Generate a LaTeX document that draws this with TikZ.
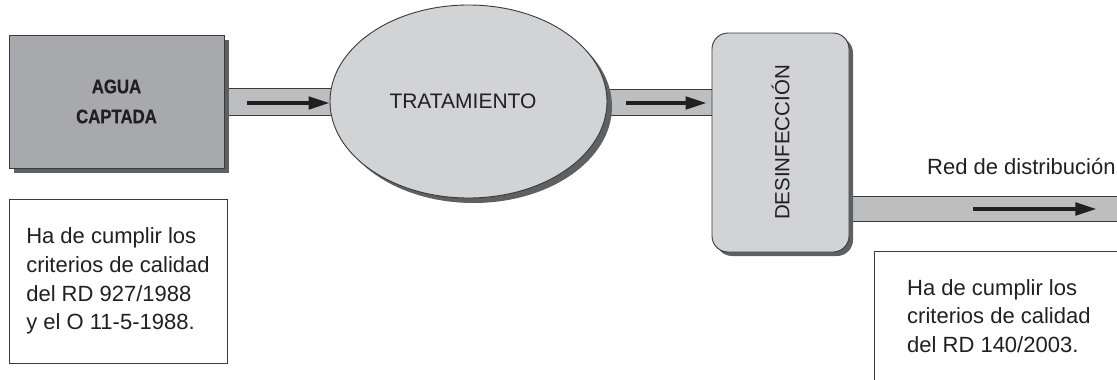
\documentclass[tikz,border=0pt]{standalone}
\usepackage{fontspec}
\setmainfont{Liberation Sans}
\newfontface\heavyface{Liberation Sans Bold}[FakeBold=0.6]
\usetikzlibrary{shapes.geometric,shadows,arrows.meta}
\pgfdeclarelayer{background}
\pgfsetlayers{background,main}

\definecolor{inkc}{HTML}{231F20}
\definecolor{edgec}{HTML}{3A3A3C}
\definecolor{sourcec}{HTML}{A7A9AC}
\definecolor{procc}{HTML}{D1D3D4}
\definecolor{pipec}{HTML}{BCBEC0}
\definecolor{shadec}{HTML}{5F6062}

\tikzset{
  x=1pt, y=-1pt,
  every node/.style={text=inkc},
  shade/.style={drop shadow={shadow xshift=#1, shadow yshift=-#1, opacity=1, fill=shadec}},
  sourcebox/.style={rectangle, draw=edgec, line width=0.9pt, fill=sourcec,
    minimum width=215pt, minimum height=133pt, inner sep=0pt, align=center,
    font=\heavyface\fontsize{19.5}{30}\selectfont, shade=5pt},
  procellipse/.style={ellipse, draw=edgec, line width=0.9pt, fill=procc,
    minimum width=277pt, minimum height=193pt, inner sep=0pt,
    font=\fontsize{21}{25}\selectfont, shade=5pt},
  procbox/.style={rectangle, rounded corners=16pt, draw=edgec, line width=0.9pt,
    fill=procc, minimum width=137pt, minimum height=219pt, inner sep=0pt,
    font=\fontsize{20.5}{25}\selectfont, shade=4pt},
  notebox/.style={rectangle, draw=edgec, line width=0.7pt, align=left,
    minimum width=218pt, minimum height=164pt, inner sep=0pt,
    font=\fontsize{22}{28.7}\selectfont},
  notetext/.style={align=left, inner sep=0pt, font=\fontsize{22}{28.7}\selectfont},
  pipe/.style={draw=edgec, line width=0.9pt, double=pipec, double distance=#1},
  flow/.style={draw=inkc, line width=3.4pt,
    -{Triangle[length=21pt, width=12.5pt]}},
}

\begin{document}
\begin{tikzpicture}
\useasboundingbox (0,0) rectangle (1117,380);
\clip (0,0) rectangle (1117,380);

% process blocks
\node (agua) [sourcebox] at (116.5,101.5)
  {\scalebox{0.86}[1]{AGUA}\\\scalebox{0.86}[1]{CAPTADA}};
\node (trat) [procellipse] at (468.5,101.5) {\hspace*{-11pt}TRATAMIENTO};
\node (desin) [procbox] at (780.5,142.5) {\rotatebox{90}{DESINFECCIÓN}};

\coordinate (salida) at (1140,209);

% pipes running between the blocks
\begin{pgfonlayer}{background}
  \draw[pipe=26pt] ([yshift=-0.5pt]agua.east) -- ([yshift=-0.5pt]trat.center);
  \draw[pipe=25pt] ([yshift=-1pt]trat.center) -- ([yshift=-1pt]trat.center -| desin.center);
  \draw[pipe=24pt] (desin.center |- salida) -- (salida);
\end{pgfonlayer}

% flow direction
\draw[flow] ([xshift=23pt,yshift=-1.5pt]agua.east) -- ([yshift=-1.5pt]trat.west);
\draw[flow] ([xshift=19pt,yshift=-1.5pt]trat.east) -- ([xshift=-5pt,yshift=-1.5pt]trat.east -| desin.west);
\draw[flow] ([xshift=124pt]desin.east |- salida) -- ([xshift=247pt]desin.east |- salida);

% network label
\node (red) [anchor=base west, inner sep=0pt, font=\fontsize{22}{26}\selectfont]
  at (927,174) {Red de distribución};

% quality requirements
\node (nota1) [notebox] at (118,281)
  {Ha de cumplir los\\criterios de calidad\\del RD 927/1988\\y el O 11-5-1988.};

\draw[draw=edgec, line width=0.7pt] (874,400) |- (1140,251);
\node (nota2) [notetext, anchor=north west] at (907,279)
  {Ha de cumplir los\\criterios de calidad\\del RD 140/2003.};
\end{tikzpicture}
\end{document}
